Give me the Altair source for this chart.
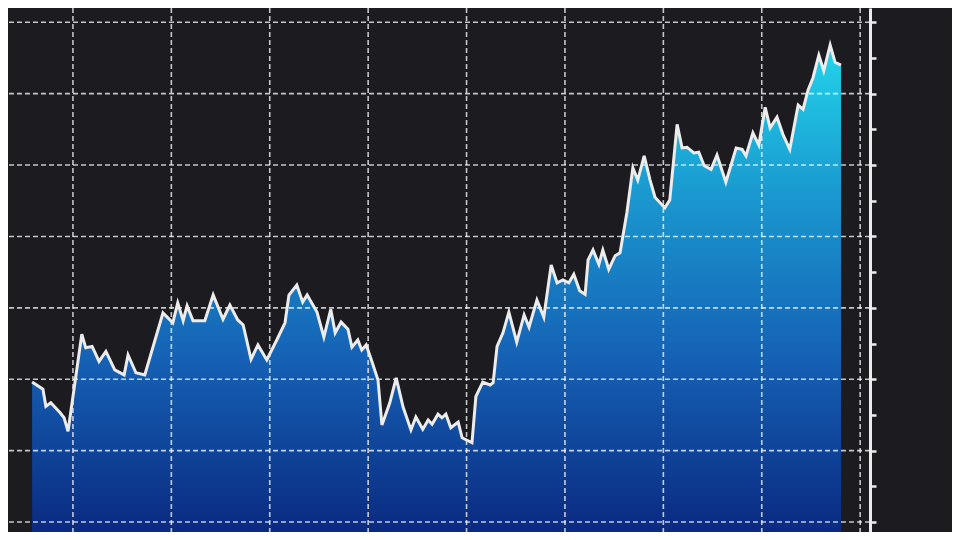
import altair as alt
import pandas as pd

# Trading session (x) and price level (y)
session = [11.7, 13.9, 14.5, 15.5, 17.4, 18.2, 19.0, 21.8, 22.6, 23.9,
           25.3, 26.7, 28.5, 30.4, 31.2, 32.8, 34.6, 38.3, 40.3, 41.3,
           42.4, 43.2, 44.4, 46.8, 48.5, 50.5, 51.9, 53.5, 54.6, 56.2,
           57.6, 59.4, 61.5, 63.1, 63.9, 65.5, 66.7, 67.6, 69.6, 71.0,
           72.4, 73.3, 74.5, 75.9, 76.7, 77.9, 78.7, 79.6, 80.8, 82.0,
           82.8, 84.4, 85.7, 87.1, 88.7, 89.7, 91.1, 92.2, 93.0, 94.2,
           95.0, 95.8, 96.8, 98.3, 99.1, 101.1, 101.9, 103.3, 104.8, 105.4,
           106.2, 107.4, 108.6, 110.2, 111.7, 112.7, 114.3, 115.7, 117.2, 118.4,
           119.6, 120.8, 121.8, 123.0, 124.1, 124.7, 125.7, 126.9, 127.7, 128.9,
           130.2, 131.2, 132.6, 133.8, 134.8, 136.1, 137.3, 138.3, 140.3, 141.3,
           142.8, 143.8, 144.8, 146.2, 147.2, 148.3, 149.7, 150.9, 152.7, 154.8,
           156.0, 156.8, 158.2, 159.4, 160.7, 161.7, 163.1, 164.3, 165.7, 167.4,
           168.4, 169.4, 170.4, 171.6, 172.6, 173.9, 174.9, 176.1]
price = [119.6, 118.6, 116.2, 116.7, 115.3, 114.6, 112.7, 126.3, 124.4, 124.6,
         122.5, 123.9, 121.3, 120.6, 123.4, 120.9, 120.6, 129.3, 127.9, 130.7,
         128.2, 130.3, 128.2, 128.2, 131.8, 128.4, 130.4, 128.3, 127.6, 122.8,
         124.8, 122.7, 125.6, 127.9, 131.8, 133.2, 130.8, 131.8, 129.4, 125.9,
         129.8, 126.5, 128.0, 127.0, 124.5, 125.5, 124.1, 124.8, 122.4, 119.9,
         113.6, 116.7, 120.2, 116.1, 112.9, 114.7, 113.0, 114.3, 113.7, 115.1,
         114.6, 115.1, 113.2, 114.0, 111.8, 111.1, 117.6, 119.6, 119.2, 119.5,
         124.6, 126.5, 129.4, 125.2, 129.0, 127.3, 131.1, 128.7, 136.0, 133.5,
         133.9, 133.5, 134.7, 132.4, 131.9, 136.7, 138.1, 136.1, 138.1, 135.4,
         137.3, 137.7, 143.4, 149.6, 147.9, 151.3, 147.9, 145.5, 144.0, 145.1,
         155.7, 152.4, 152.5, 151.7, 151.8, 149.9, 149.4, 151.4, 147.6, 152.4,
         152.2, 151.3, 154.5, 152.8, 158.1, 155.2, 156.7, 154.3, 152.2, 158.4,
         157.8, 160.5, 162.2, 165.4, 163.2, 166.8, 164.4, 164.0]

x_grid = [20, 40, 60, 80, 100, 120, 140, 160, 180]
y_grid = [100, 110, 120, 130, 140, 150, 160, 170]
y_ticks = [100, 105, 110, 115, 120, 125, 130, 135, 140, 145, 150, 155, 160, 165, 170]

X_DOMAIN = [6.8, 182.0]
Y_DOMAIN = [98.6, 172.0]

df = pd.DataFrame({"session": session, "price": price})
xscale = alt.Scale(domain=X_DOMAIN, nice=False, zero=False)
yscale = alt.Scale(domain=Y_DOMAIN, nice=False, zero=False)

y_axis = alt.Axis(orient="right", values=y_ticks, labels=False, grid=False,
                  domain=True, domainColor="#ececec", domainWidth=3,
                  ticks=True, tickColor="#ececec", tickWidth=2.5, tickSize=6,
                  title=None)

base = alt.Chart(df)

area = base.mark_area(
    color=alt.Gradient(
        gradient="linear",
        stops=[
            alt.GradientStop(color="#0a2a80", offset=0),
            alt.GradientStop(color="#1560b4", offset=0.35),
            alt.GradientStop(color="#1a9ad0", offset=0.7),
            alt.GradientStop(color="#22d4ea", offset=1),
        ],
        x1=1, x2=1, y1=1, y2=0,
    ),
    opacity=1,
).encode(
    x=alt.X("session:Q", scale=xscale, axis=None),
    y=alt.Y("price:Q", scale=yscale, axis=y_axis),
    y2=alt.datum(Y_DOMAIN[0]),
)

hgrid = alt.Chart(pd.DataFrame({"g": y_grid})).mark_rule(
    color="#ffffff", strokeWidth=1.6, strokeDash=[5, 3], opacity=0.75
).encode(y=alt.Y("g:Q", scale=yscale, axis=y_axis))

vgrid = alt.Chart(pd.DataFrame({"g": x_grid})).mark_rule(
    color="#ffffff", strokeWidth=1.6, strokeDash=[5, 3], opacity=0.75
).encode(x=alt.X("g:Q", scale=xscale, axis=None))

line = base.mark_line(color="#ececec", strokeWidth=3).encode(
    x=alt.X("session:Q", scale=xscale, axis=None),
    y=alt.Y("price:Q", scale=yscale, axis=y_axis),
)

chart = alt.layer(area, hgrid, vgrid, line).properties(
    width=862,
    height=524,
    autosize=alt.AutoSizeParams(type="none"),
    padding={"left": 0, "top": 0, "right": 82, "bottom": 0},
    background="#1c1c20",
).configure_view(stroke=None)

chart.save("out.html", embed_options={"renderer": "svg", "actions": False})
